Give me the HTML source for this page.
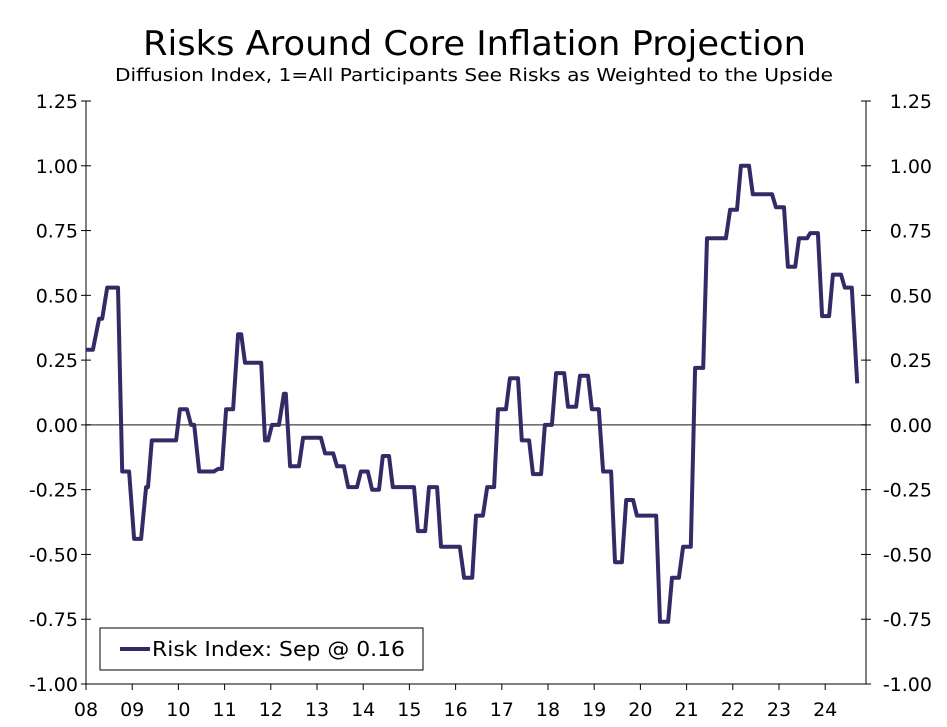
<!DOCTYPE html>
<html><head><meta charset="utf-8"><style>
body{margin:0;background:#fff;}
svg{display:block;font-family:"DejaVu Sans","Liberation Sans",sans-serif;}
</style></head><body>
<svg id="chart" width="947" height="727" viewBox="0 0 947 727">
<text x="143" y="55" font-size="34" textLength="663" lengthAdjust="spacingAndGlyphs" fill="#000">Risks Around Core Inflation Projection</text>
<text x="115" y="81" font-size="18" textLength="718" lengthAdjust="spacingAndGlyphs" fill="#000">Diffusion Index, 1=All Participants See Risks as Weighted to the Upside</text>
<g id="axes"></g>
<g id="series"></g>
<g>
<rect x="100" y="628" width="323" height="42" fill="#fff" stroke="#000" stroke-width="1"/>
<line x1="120" y1="649" x2="150" y2="649" stroke="#332a66" stroke-width="4"/>
<text x="152" y="656" font-size="20" textLength="253" lengthAdjust="spacingAndGlyphs" fill="#000">Risk Index: Sep @ 0.16</text>
</g>
</svg>
<script>
// months since Jan 2008
const months = [0,1.8,3.4,4.2,5.5,8.3,9.4,11.2,12.5,14.3,15.6,16.1,17.1,23.4,24.4,26.2,27.3,28.1,29.4,33.2,34.3,35.3,36.4,38.2,39.5,40.3,41.3,45.5,46.5,47.3,48.3,50.1,51.4,51.9,53.0,55.3,56.4,61.0,62.1,64.2,65.2,67.0,68.1,70.4,71.4,73.2,74.3,76.1,77.1,78.7,79.7,85.2,86.2,88.1,89.1,91.2,92.2,97.1,98.2,100.3,101.3,103.1,104.2,106.0,107.0,109.1,110.1,112.2,113.2,115.1,116.1,118.2,119.2,121.0,122.1,124.2,125.2,127.3,128.3,130.4,131.4,133.2,134.3,136.4,137.4,139.2,140.3,142.1,143.1,148.1,149.1,151.2,152.2,154.0,155.1,157.1,158.2,160.3,161.3,166.2,167.3,169.1,170.1,172.2,173.2,178.2,179.2,181.3,182.3,184.2,185.2,187.3,188.1,190.1,191.2,193.0,194.0,196.1,197.1,198.9,200.3];
const riskValues = [0.29,0.29,0.41,0.41,0.53,0.53,-0.18,-0.18,-0.44,-0.44,-0.24,-0.24,-0.06,-0.06,0.06,0.06,0,0,-0.18,-0.18,-0.17,-0.17,0.06,0.06,0.35,0.35,0.24,0.24,-0.06,-0.06,0,0,0.12,0.12,-0.16,-0.16,-0.05,-0.05,-0.11,-0.11,-0.16,-0.16,-0.24,-0.24,-0.18,-0.18,-0.25,-0.25,-0.12,-0.12,-0.24,-0.24,-0.41,-0.41,-0.24,-0.24,-0.47,-0.47,-0.59,-0.59,-0.35,-0.35,-0.24,-0.24,0.06,0.06,0.18,0.18,-0.06,-0.06,-0.19,-0.19,0,0,0.2,0.2,0.07,0.07,0.19,0.19,0.06,0.06,-0.18,-0.18,-0.53,-0.53,-0.29,-0.29,-0.35,-0.35,-0.76,-0.76,-0.59,-0.59,-0.47,-0.47,0.22,0.22,0.72,0.72,0.83,0.83,1.0,1.0,0.89,0.89,0.84,0.84,0.61,0.61,0.72,0.72,0.74,0.74,0.42,0.42,0.58,0.58,0.53,0.53,0.16];
const yTicks = [1.25,1.00,0.75,0.50,0.25,0.00,-0.25,-0.50,-0.75,-1.00];
const xTickLabels = ["08","09","10","11","12","13","14","15","16","17","18","19","20","21","22","23","24"];

const NS="http://www.w3.org/2000/svg";
const L=86,R=866,T=101,B=684;
function xs(m){return L+m*46.2/12;}
function ys(v){return T+(1.25-v)*(B-T)/2.25;}
function mk(tag,attrs,parent){const e=document.createElementNS(NS,tag);for(const k in attrs)e.setAttribute(k,attrs[k]);parent.appendChild(e);return e;}
const ax=document.getElementById('axes');
let e;
e=mk('line',{x1:L,y1:T,x2:L,y2:B,stroke:'#000','stroke-width':1},ax);


e=mk('line',{x1:R,y1:T,x2:R,y2:B,stroke:'#000','stroke-width':1},ax);


e=mk('line',{x1:L,y1:B,x2:R,y2:B,stroke:'#000','stroke-width':1},ax);


e=mk('line',{x1:L,y1:ys(0),x2:R,y2:ys(0),stroke:'#444','stroke-width':1.2},ax);


yTicks.forEach(v=>{
  const y=ys(v);
  e=mk('line',{x1:L-5,y1:y,x2:L+5,y2:y,stroke:'#000'},ax);
  
  
  e=mk('line',{x1:R-5,y1:y,x2:R+5,y2:y,stroke:'#000'},ax);
  
  
  const s=v.toFixed(2);
  e=mk('text',{x:L-8,y:y+7,'font-size':19,'text-anchor':'end',fill:'#000'},ax);e.textContent=s;
  
  
  e=mk('text',{x:932,y:y+7,'font-size':19,'text-anchor':'end',fill:'#000'},ax);e.textContent=s;
  
  
});
xTickLabels.forEach((lab,i)=>{
  const x=xs(i*12);
  e=mk('line',{x1:x,y1:B,x2:x,y2:B+6,stroke:'#000'},ax);
  
  
  e=mk('text',{x:x,y:B+32,'font-size':19,'text-anchor':'middle',fill:'#000'},ax);e.textContent=lab;
  
  
});
const pts=months.map((m,i)=>xs(m).toFixed(1)+','+ys(riskValues[i]).toFixed(1)).join(' ');
e=mk('polyline',{points:pts,fill:'none',stroke:'#332a66','stroke-width':4,'stroke-linejoin':'round'},document.getElementById('series'));


</script>
</body></html>
